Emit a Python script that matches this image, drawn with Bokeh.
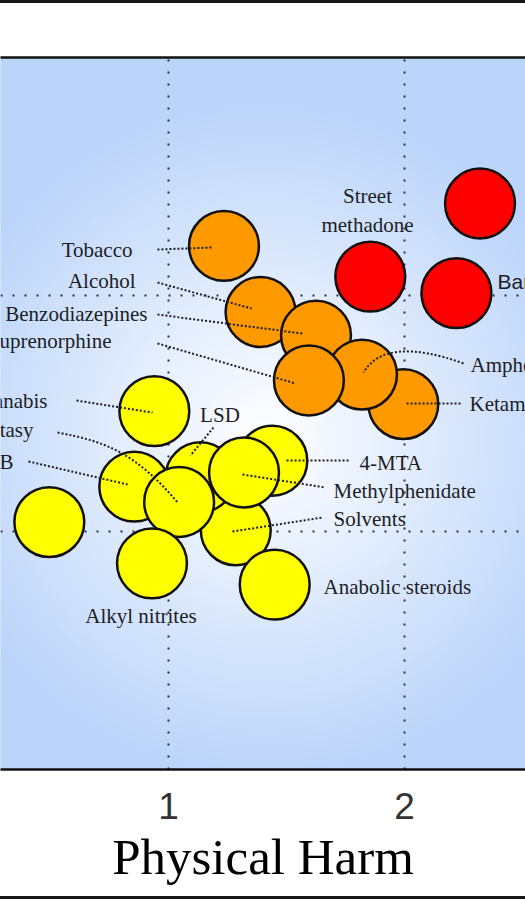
import numpy as np
from bokeh.plotting import figure
from bokeh.models import ColumnDataSource, FixedTicker, LinearAxis, Range1d
from bokeh.core.properties import value
from bokeh.embed import file_html
from bokeh.resources import INLINE

# ---------------- data ----------------
drugs = ["Cocaine", "Barbiturates", "Street methadone", "Alcohol", "Ketamine",
         "Benzodiazepines", "Amphetamine", "Tobacco", "Buprenorphine", "Cannabis",
         "Solvents", "4-MTA", "LSD", "Methylphenidate", "Anabolic steroids",
         "GHB", "Ecstasy", "Alkyl nitrites", "Khat"]
physical_harm = [2.32, 2.22, 1.855, 1.39, 1.995,
                 1.625, 1.82, 1.235, 1.595, 0.94,
                 1.285, 1.44, 1.135, 1.32, 1.45,
                 0.855, 1.045, 0.93, 0.495]
dependence = [2.39, 2.01, 2.08, 1.93, 1.54,
              1.83, 1.665, 2.21, 1.64, 1.51,
              1.005, 1.30, 1.23, 1.25, 0.775,
              1.19, 1.125, 0.865, 1.04]
harm_group = ["high", "high", "high", "mid", "mid",
              "mid", "mid", "mid", "mid", "low",
              "low", "low", "low", "low", "low",
              "low", "low", "low", "low"]
x_ticks = [1, 2]
y_grid_ticks = [1, 2]
x_label = "Physical Harm"

# ---------------- styles / layout ----------------
GROUP_COLORS = {"high": "#FF0000", "mid": "#FF9900", "low": "#FFFF00"}
SERIF = "Liberation Serif"
SANS = "Liberation Sans"
INK = "#1c1e26"

FIG_W, FIG_H = 525, 899
TOP, FRAME_H = 57, 712
UNIT_PX = 236.0                       # pixels per data unit (both axes)
X0 = 1 - 168 / UNIT_PX
X1 = X0 + FIG_W / UNIT_PX
Y0 = 1 - 238 / UNIT_PX
Y1 = Y0 + FRAME_H / UNIT_PX
PX = 1.0 / UNIT_PX                    # one screen pixel in data units
RADIUS = 0.148

# label placement: offsets in screen pixels from the bubble centre (dy positive = down)
LABELS = {
    "Barbiturates":      dict(dx=41.1, dy=-11.6, align="left", font=SANS),
    "Street methadone":  dict(dx=-2.8, dy=-66.1, align="center", text="Street\nmethadone"),
    "Alcohol":           dict(dx=-125, dy=-31.5, align="right", leader=[(-103, -29.5), (-9, -3.5)]),
    "Ketamine":          dict(dx=66.2, dy=0.4, align="left", leader=[(57.2, -0.6), (3.2, -0.6)]),
    "Benzodiazepines":   dict(dx=-168.5, dy=-22.1, align="right", leader=[(-158.5, -21.1), (-13.5, -2.1)]),
    "Amphetamine":       dict(dx=108.5, dy=-9.1, align="left",
                              curve=[(101.5, -11.1), (49.5, -29.8), (16.2, -26.8), (1.5, -2.1)]),
    "Tobacco":           dict(dx=-91.5, dy=3.6, align="right", leader=[(-66.5, 3.6), (-12.5, 1.6)]),
    "Buprenorphine":     dict(dx=-197.4, dy=-39, align="right", leader=[(-151.4, -37), (-13.4, 3)]),
    "Cannabis":          dict(dx=-106.8, dy=-10.6, align="right", leader=[(-77.8, -10.6), (-1.8, 1.4)]),
    "Solvents":          dict(dx=97.7, dy=-11.8, align="left", leader=[(-3.3, 1.2), (86.7, -12.8)]),
    "4-MTA":             dict(dx=87.2, dy=1.8, align="left", leader=[(14.2, -0.2), (76.2, -0.2)]),
    "LSD":               dict(dx=19.6, dy=-62.7, align="center", leader=[(13.1, -49.7), (-9.9, -21.7)]),
    "Methylphenidate":   dict(dx=89.5, dy=18, align="left", leader=[(-1.5, 2), (81.5, 15)]),
    "Anabolic steroids": dict(dx=48.8, dy=1.9, align="left"),
    "GHB":               dict(dx=-120.8, dy=-24.2, align="right", leader=[(-105.8, -25.2), (-6.8, -2.2)]),
    "Ecstasy":           dict(dx=-145.6, dy=-72.5, align="right",
                              curve=[(-121.6, -69.5), (-73.6, -60.5), (-43.6, -49.5), (-0.6, 1.5)]),
    "Alkyl nitrites":    dict(dx=-11, dy=53.1, align="center"),
}

# ---------------- figure ----------------
p = figure(width=FIG_W, height=FIG_H,
           x_range=Range1d(X0, X1), y_range=Range1d(Y0, Y1),
           output_backend="svg", toolbar_location=None,
           min_border_left=0, min_border_right=0,
           min_border_top=TOP, min_border_bottom=FIG_H - TOP - FRAME_H,
           background_fill_color="#BBD4FA", border_fill_color=None,
           outline_line_color=None)
p.styles = {"box-shadow": "inset 0 3px 0 0 #161616, inset 0 -3px 0 0 #161616",
            "background-color": "white"}

# radial gradient background (white centre -> light blue)
nx, ny = 263, 356
gx = np.linspace(X0, X1, nx)
gy = np.linspace(Y0, Y1, ny)
GX, GY = np.meshgrid(gx, gy)
t = np.clip(np.hypot(GX - 1.41, GY - 1.39) / 1.45, 0, 1)
edge = np.array([187, 212, 250], dtype=float)
rgb = 255 + (edge - 255) * t[..., None]
img = np.empty((ny, nx), dtype=np.uint32)
view = img.view(dtype=np.uint8).reshape((ny, nx, 4))
view[..., 0] = rgb[..., 0].round()
view[..., 1] = rgb[..., 1].round()
view[..., 2] = rgb[..., 2].round()
view[..., 3] = 255
p.image_rgba(image=[img], x=X0, y=Y0, dw=X1 - X0, dh=Y1 - Y0, level="image")

# axes
p.yaxis.visible = False
p.yaxis.ticker = FixedTicker(ticks=y_grid_ticks)
p.ygrid.ticker = FixedTicker(ticks=y_grid_ticks)
p.xaxis.ticker = FixedTicker(ticks=x_ticks)
p.xgrid.ticker = FixedTicker(ticks=x_ticks)
for g in (p.xgrid, p.ygrid):
    g.grid_line_color = "#263042"
    g.grid_line_width = 2
    g.grid_line_dash = "2 10"
    g.grid_line_alpha = 1.0

ax = p.xaxis[0]
ax.axis_label = x_label
ax.axis_line_color = "#111111"
ax.axis_line_width = 2.5
ax.major_tick_line_color = None
ax.minor_tick_line_color = None
ax.major_tick_out = 0
ax.major_tick_in = 0
ax.major_label_standoff = 23
ax.major_label_text_font = SANS
ax.major_label_text_font_size = "37px"
ax.major_label_text_color = "#333333"
ax.axis_label_standoff = 7
ax.axis_label_text_font = SERIF
ax.axis_label_text_font_size = "51px"
ax.axis_label_text_font_style = "normal"
ax.axis_label_text_color = "#000000"

top = LinearAxis(ticker=FixedTicker(ticks=[]), axis_line_color="#111111", axis_line_width=2.5,
                 major_tick_line_color=None, minor_tick_line_color=None,
                 major_label_text_font_size="0px")
p.add_layout(top, "above")

# bubbles
src = ColumnDataSource(dict(name=drugs, x=physical_harm, y=dependence,
                            color=[GROUP_COLORS[g] for g in harm_group]))
p.circle(x="x", y="y", radius=RADIUS, source=src, fill_color="color",
         line_color="#111111", line_width=2.5)

# leaders and labels
seg = dict(x0=[], y0=[], x1=[], y1=[])
bez = dict(x0=[], y0=[], x1=[], y1=[], cx0=[], cy0=[], cx1=[], cy1=[])
lab = dict(x=[], y=[], text=[], align=[], font=[])
for name, x, y in zip(drugs, physical_harm, dependence):
    spec = LABELS.get(name)
    if spec is None:
        continue
    lab["x"].append(x + spec["dx"] * PX)
    lab["y"].append(y - spec["dy"] * PX)
    lab["text"].append(spec.get("text", name))
    lab["align"].append(spec["align"])
    lab["font"].append(spec.get("font", SERIF))
    if "leader" in spec:
        (ax0, ay0), (ax1, ay1) = spec["leader"]
        seg["x0"].append(x + ax0 * PX); seg["y0"].append(y - ay0 * PX)
        seg["x1"].append(x + ax1 * PX); seg["y1"].append(y - ay1 * PX)
    if "curve" in spec:
        (a0, b0), (c0, d0), (c1, d1), (a1, b1) = spec["curve"]
        bez["x0"].append(x + a0 * PX); bez["y0"].append(y - b0 * PX)
        bez["cx0"].append(x + c0 * PX); bez["cy0"].append(y - d0 * PX)
        bez["cx1"].append(x + c1 * PX); bez["cy1"].append(y - d1 * PX)
        bez["x1"].append(x + a1 * PX); bez["y1"].append(y - b1 * PX)

p.segment(x0="x0", y0="y0", x1="x1", y1="y1", source=ColumnDataSource(seg),
          line_color=INK, line_width=2, line_dash="2 2")
p.bezier(x0="x0", y0="y0", x1="x1", y1="y1", cx0="cx0", cy0="cy0", cx1="cx1", cy1="cy1",
         source=ColumnDataSource(bez), line_color=INK, line_width=2, line_dash="2 2")
p.text(x="x", y="y", text="text", source=ColumnDataSource(lab),
       text_align="align", text_baseline="middle", text_font="font",
       text_font_size=value("21px"), text_color=INK, text_line_height=1.22)

open("out.html", "w").write(file_html(p, INLINE))
